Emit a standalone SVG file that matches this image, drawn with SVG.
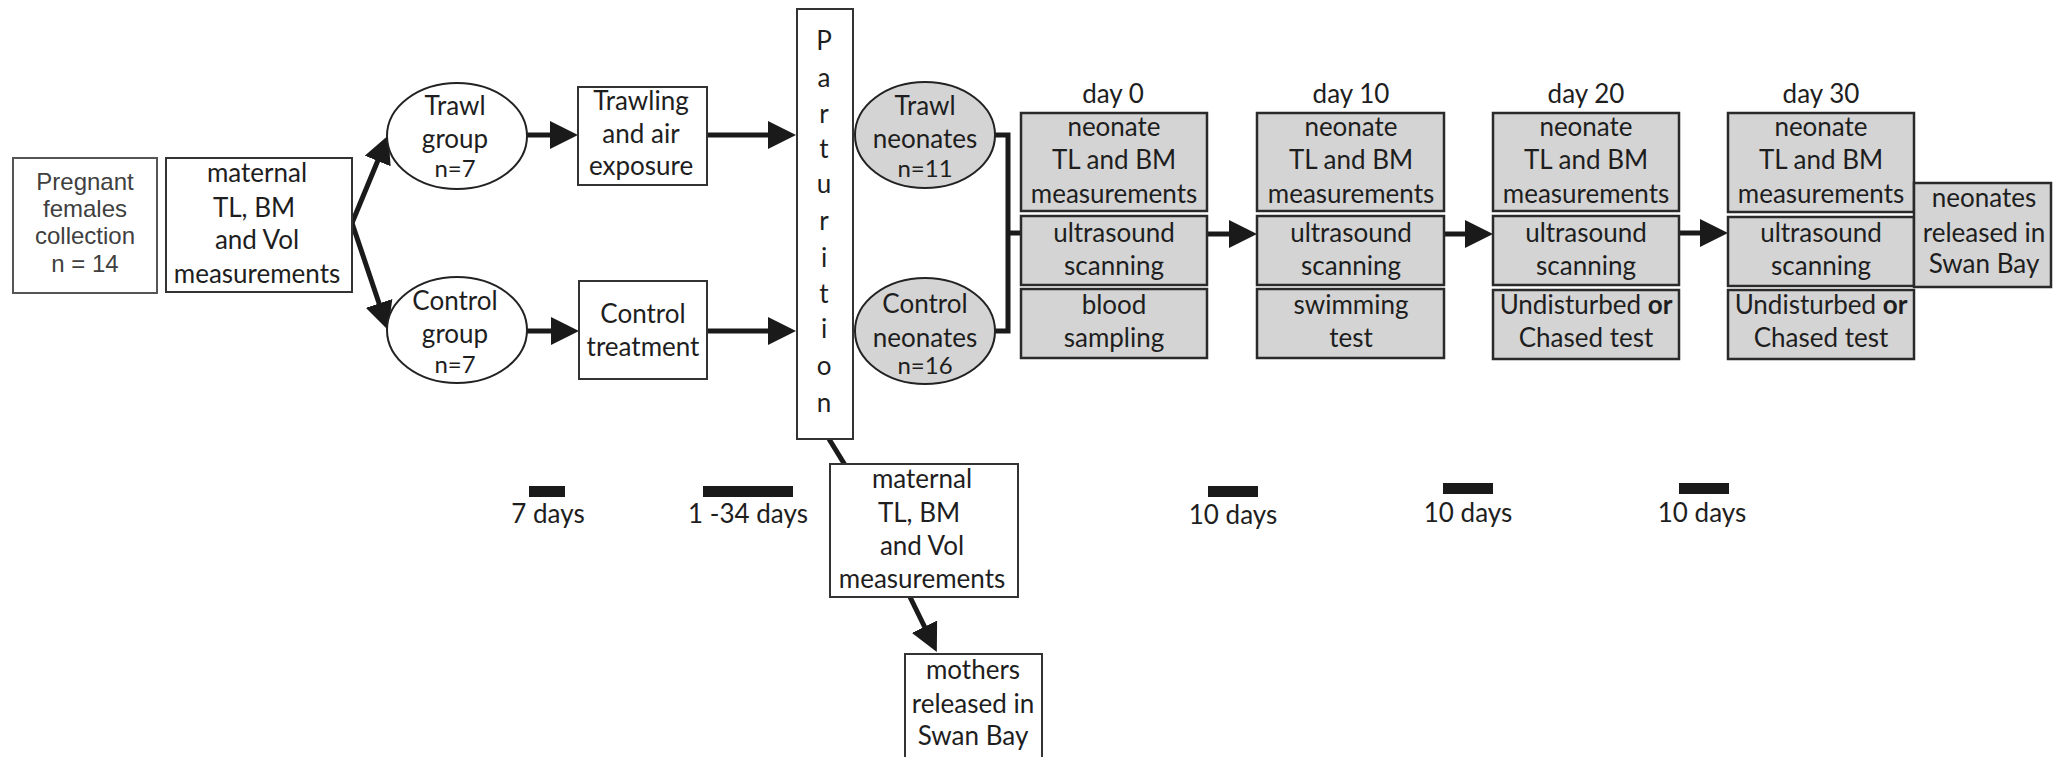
<svg xmlns="http://www.w3.org/2000/svg" width="2054" height="757" viewBox="0 0 2054 757">
<defs>
<style>
.t{font-family:Lato,"Open Sans",sans-serif;font-size:26px;fill:#1e1e1e;text-anchor:middle}
.s{font-size:24px}
.a{font-family:"Liberation Sans",Arial,sans-serif;font-size:24px;fill:#404040;text-anchor:middle}
.bx{fill:#fff;stroke:#333;stroke-width:2}
.gx{fill:#d4d4d4;stroke:#2a2a2a;stroke-width:2.5}
.el{fill:#fff;stroke:#222;stroke-width:2}
.ge{fill:#d4d4d4;stroke:#222;stroke-width:2}
.ln{fill:none;stroke:#1a1a1a;stroke-width:5}
.ar{fill:none;stroke:#1a1a1a;stroke-width:5;marker-end:url(#ah)}
.bar{fill:#1a1a1a}
</style>
<marker id="ah" markerUnits="userSpaceOnUse" markerWidth="28" markerHeight="28" refX="17" refY="14" orient="auto" viewBox="0 0 28 28">
<path d="M0,0 L28,14 L0,28 z" fill="#1a1a1a"/>
</marker>
</defs>

<g id="connectors">
<line class="ar" x1="352" y1="223" x2="384.2" y2="145.3"/>
<line class="ar" x1="352" y1="223" x2="384.5" y2="319.5"/>
<line class="ar" x1="527" y1="135" x2="567" y2="135"/>
<line class="ar" x1="707" y1="135" x2="785" y2="135"/>
<line class="ar" x1="527" y1="331" x2="568" y2="331"/>
<line class="ar" x1="707" y1="331" x2="785" y2="331"/>
<line class="ar" x1="1207" y1="234" x2="1246" y2="234"/>
<line class="ar" x1="1444" y1="234" x2="1482" y2="234"/>
<line class="ar" x1="1679" y1="233" x2="1717" y2="233"/>
<line class="ln" x1="829" y1="439" x2="845" y2="465"/>
<line class="ar" x1="910" y1="597" x2="932" y2="642"/>
<path class="ln" d="M994,135 H1008 V331 H994 M1008,233 H1021"/>
</g>

<g id="pregnant">
<rect class="bx" x="13" y="158" width="144" height="135" style="stroke:#555"/>
<text class="a" x="85" y="190">Pregnant</text>
<text class="a" x="85" y="217">females</text>
<text class="a" x="85" y="244">collection</text>
<text class="a" x="85" y="272">n = 14</text>
</g>

<g id="maternal1">
<rect class="bx" x="166" y="158" width="186" height="134"/>
<text class="t" x="257" y="182">maternal</text>
<text class="t" x="254" y="217">TL, BM</text>
<text class="t" x="257" y="249">and Vol</text>
<text class="t" x="257" y="283">measurements</text>
</g>

<g id="trawl-group">
<ellipse class="el" cx="457" cy="136" rx="70" ry="53"/>
<text class="t" x="455" y="115">Trawl</text>
<text class="t" x="455" y="148">group</text>
<text class="t s" x="455" y="177">n=7</text>
</g>

<g id="control-group">
<ellipse class="el" cx="457" cy="330" rx="70" ry="53"/>
<text class="t" x="455" y="310">Control</text>
<text class="t" x="455" y="343">group</text>
<text class="t s" x="455" y="373">n=7</text>
</g>

<g id="trawling">
<rect class="bx" x="578" y="87" width="129" height="98"/>
<text class="t" x="641" y="110">Trawling</text>
<text class="t" x="641" y="143">and air</text>
<text class="t" x="641" y="175">exposure</text>
</g>

<g id="control-treatment">
<rect class="bx" x="579" y="281" width="128" height="98"/>
<text class="t" x="643" y="323">Control</text>
<text class="t" x="643" y="356">treatment</text>
</g>

<g id="parturition">
<rect class="bx" x="797" y="9" width="56" height="430"/>
<text class="t" x="824" y="50">P</text>
<text class="t" x="824" y="87">a</text>
<text class="t" x="824" y="123">r</text>
<text class="t" x="824" y="158">t</text>
<text class="t" x="824" y="193">u</text>
<text class="t" x="824" y="230">r</text>
<text class="t" x="824" y="267">i</text>
<text class="t" x="824" y="303">t</text>
<text class="t" x="824" y="338">i</text>
<text class="t" x="824" y="375">o</text>
<text class="t" x="824" y="412">n</text>
</g>

<g id="trawl-neonates">
<ellipse class="ge" cx="925" cy="135" rx="70" ry="53"/>
<text class="t" x="925" y="115">Trawl</text>
<text class="t" x="925" y="148">neonates</text>
<text class="t s" x="925" y="177">n=11</text>
</g>

<g id="control-neonates">
<ellipse class="ge" cx="925" cy="331" rx="70" ry="53"/>
<text class="t" x="925" y="313">Control</text>
<text class="t" x="925" y="347">neonates</text>
<text class="t s" x="925" y="374">n=16</text>
</g>

<g id="day0">
<text class="t" x="1113" y="103">day 0</text>
<rect class="gx" x="1021" y="113" width="186" height="98"/>
<text class="t" x="1114" y="136">neonate</text>
<text class="t" x="1114" y="169">TL and BM</text>
<text class="t" x="1114" y="203">measurements</text>
<rect class="gx" x="1021" y="216" width="186" height="69"/>
<text class="t" x="1114" y="242">ultrasound</text>
<text class="t" x="1114" y="275">scanning</text>
<rect class="gx" x="1021" y="289" width="186" height="69"/>
<text class="t" x="1114" y="314">blood</text>
<text class="t" x="1114" y="347">sampling</text>
</g>

<g id="day10">
<text class="t" x="1351" y="103">day 10</text>
<rect class="gx" x="1257" y="113" width="187" height="98"/>
<text class="t" x="1351" y="136">neonate</text>
<text class="t" x="1351" y="169">TL and BM</text>
<text class="t" x="1351" y="203">measurements</text>
<rect class="gx" x="1257" y="216" width="187" height="69"/>
<text class="t" x="1351" y="242">ultrasound</text>
<text class="t" x="1351" y="275">scanning</text>
<rect class="gx" x="1257" y="289" width="187" height="69"/>
<text class="t" x="1351" y="314">swimming</text>
<text class="t" x="1351" y="347">test</text>
</g>

<g id="day20">
<text class="t" x="1586" y="103">day 20</text>
<rect class="gx" x="1493" y="113" width="186" height="98"/>
<text class="t" x="1586" y="136">neonate</text>
<text class="t" x="1586" y="169">TL and BM</text>
<text class="t" x="1586" y="203">measurements</text>
<rect class="gx" x="1493" y="216" width="186" height="69"/>
<text class="t" x="1586" y="242">ultrasound</text>
<text class="t" x="1586" y="275">scanning</text>
<rect class="gx" x="1493" y="290" width="186" height="69"/>
<text class="t" x="1586" y="314">Undisturbed <tspan font-weight="bold">or</tspan></text>
<text class="t" x="1586" y="347">Chased test</text>
</g>

<g id="day30">
<text class="t" x="1821" y="103">day 30</text>
<rect class="gx" x="1728" y="113" width="186" height="99"/>
<text class="t" x="1821" y="136">neonate</text>
<text class="t" x="1821" y="169">TL and BM</text>
<text class="t" x="1821" y="203">measurements</text>
<rect class="gx" x="1728" y="217" width="186" height="69"/>
<text class="t" x="1821" y="242">ultrasound</text>
<text class="t" x="1821" y="275">scanning</text>
<rect class="gx" x="1728" y="290" width="186" height="69"/>
<text class="t" x="1821" y="314">Undisturbed <tspan font-weight="bold">or</tspan></text>
<text class="t" x="1821" y="347">Chased test</text>
</g>

<g id="neonates-released">
<rect class="gx" x="1914" y="183" width="137" height="104"/>
<text class="t" x="1984" y="207">neonates</text>
<text class="t" x="1984" y="242">released in</text>
<text class="t" x="1984" y="273">Swan Bay</text>
</g>

<g id="maternal2">
<rect class="bx" x="830" y="464" width="188" height="133"/>
<text class="t" x="922" y="488">maternal</text>
<text class="t" x="919" y="522">TL, BM</text>
<text class="t" x="922" y="555">and Vol</text>
<text class="t" x="922" y="588">measurements</text>
</g>

<g id="mothers">
<rect class="bx" x="905" y="654" width="137" height="120"/>
<text class="t" x="973" y="679">mothers</text>
<text class="t" x="973" y="713">released in</text>
<text class="t" x="973" y="745">Swan Bay</text>
</g>

<g id="timeline">
<rect class="bar" x="529" y="486" width="36" height="11"/>
<text class="t" x="548" y="523">7 days</text>
<rect class="bar" x="703" y="486" width="90" height="11"/>
<text class="t" x="748" y="523">1 -34 days</text>
<rect class="bar" x="1208" y="486" width="50" height="11"/>
<text class="t" x="1233" y="524">10 days</text>
<rect class="bar" x="1443" y="483" width="50" height="11"/>
<text class="t" x="1468" y="522">10 days</text>
<rect class="bar" x="1679" y="483" width="50" height="11"/>
<text class="t" x="1702" y="522">10 days</text>
</g>
</svg>
